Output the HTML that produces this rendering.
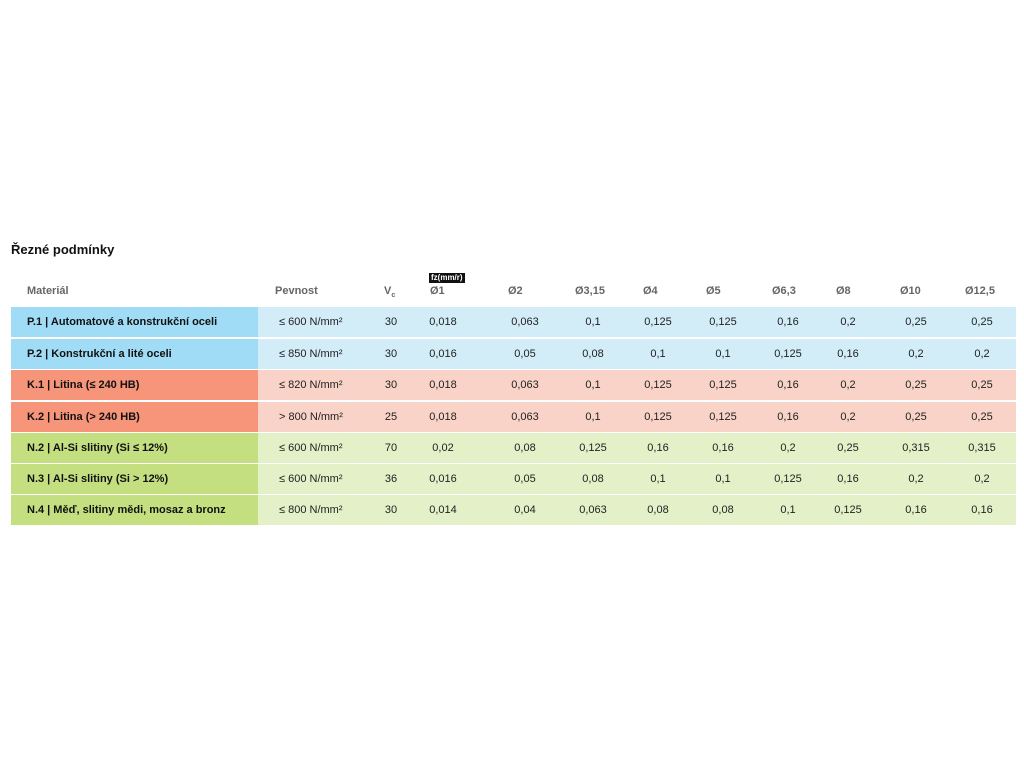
<!DOCTYPE html>
<html><head><meta charset="utf-8"><style>
body{margin:0;width:1024px;height:768px;background:#fff;font-family:"Liberation Sans",sans-serif;position:relative;overflow:hidden}
.t{position:absolute;left:11px;top:242px;font-size:13px;font-weight:bold;color:#111}
.h{position:absolute;top:285px;font-size:11px;font-weight:bold;color:#666}
.row{position:absolute;left:11px;width:1005px;height:30px}
.l{position:absolute;left:0;top:0;width:247px;height:100%}
.r{position:absolute;left:247px;top:0;right:0;height:100%}
.n{position:absolute;left:16px;top:0;line-height:30px;font-size:11px;font-weight:bold;color:#111}
.c{position:absolute;top:0;line-height:30px;font-size:11px;color:#222;transform:translateX(-50%);white-space:nowrap}
.p{position:absolute;left:268px;top:0;line-height:30px;font-size:11px;color:#222}
.fz{position:absolute;left:429px;top:273px;background:#111;color:#fff;font-size:8px;font-weight:bold;padding:0 2px;line-height:10px}
</style></head><body>
<div class="t">Řezné podmínky</div>
<div class="fz">fz(mm/r)</div>
<div class="h" style="left:27px">Materiál</div>
<div class="h" style="left:275px">Pevnost</div>
<div class="h" style="left:384px">V<sub style="font-size:7px">c</sub></div>
<div class="h" style="left:430px">Ø1</div>
<div class="h" style="left:508px">Ø2</div>
<div class="h" style="left:575px">Ø3,15</div>
<div class="h" style="left:643px">Ø4</div>
<div class="h" style="left:706px">Ø5</div>
<div class="h" style="left:772px">Ø6,3</div>
<div class="h" style="left:836px">Ø8</div>
<div class="h" style="left:900px">Ø10</div>
<div class="h" style="left:965px">Ø12,5</div>

<div class="row" style="top:307px"><div class="l" style="background:#a0dcf6"></div><div class="r" style="background:#d3edf8"></div><div class="n">P.1 | Automatové a konstrukční oceli</div><div class="p">≤ 600 N/mm²</div>
<div class="c" style="left:380px">30</div><div class="c" style="left:432px">0,018</div><div class="c" style="left:514px">0,063</div><div class="c" style="left:582px">0,1</div><div class="c" style="left:647px">0,125</div><div class="c" style="left:712px">0,125</div><div class="c" style="left:777px">0,16</div><div class="c" style="left:837px">0,2</div><div class="c" style="left:905px">0,25</div><div class="c" style="left:971px">0,25</div></div>

<div class="row" style="top:339px"><div class="l" style="background:#a0dcf6"></div><div class="r" style="background:#d3edf8"></div><div class="n">P.2 | Konstrukční a lité oceli</div><div class="p">≤ 850 N/mm²</div>
<div class="c" style="left:380px">30</div><div class="c" style="left:432px">0,016</div><div class="c" style="left:514px">0,05</div><div class="c" style="left:582px">0,08</div><div class="c" style="left:647px">0,1</div><div class="c" style="left:712px">0,1</div><div class="c" style="left:777px">0,125</div><div class="c" style="left:837px">0,16</div><div class="c" style="left:905px">0,2</div><div class="c" style="left:971px">0,2</div></div>

<div class="row" style="top:370px"><div class="l" style="background:#f6957a"></div><div class="r" style="background:#fad3c8"></div><div class="n">K.1 | Litina (≤ 240 HB)</div><div class="p">≤ 820 N/mm²</div>
<div class="c" style="left:380px">30</div><div class="c" style="left:432px">0,018</div><div class="c" style="left:514px">0,063</div><div class="c" style="left:582px">0,1</div><div class="c" style="left:647px">0,125</div><div class="c" style="left:712px">0,125</div><div class="c" style="left:777px">0,16</div><div class="c" style="left:837px">0,2</div><div class="c" style="left:905px">0,25</div><div class="c" style="left:971px">0,25</div></div>

<div class="row" style="top:402px"><div class="l" style="background:#f6957a"></div><div class="r" style="background:#fad3c8"></div><div class="n">K.2 | Litina (&gt; 240 HB)</div><div class="p">&gt; 800 N/mm²</div>
<div class="c" style="left:380px">25</div><div class="c" style="left:432px">0,018</div><div class="c" style="left:514px">0,063</div><div class="c" style="left:582px">0,1</div><div class="c" style="left:647px">0,125</div><div class="c" style="left:712px">0,125</div><div class="c" style="left:777px">0,16</div><div class="c" style="left:837px">0,2</div><div class="c" style="left:905px">0,25</div><div class="c" style="left:971px">0,25</div></div>

<div class="row" style="top:433px"><div class="l" style="background:#c3df7f"></div><div class="r" style="background:#e3f0c8"></div><div class="n">N.2 | Al-Si slitiny (Si ≤ 12%)</div><div class="p">≤ 600 N/mm²</div>
<div class="c" style="left:380px">70</div><div class="c" style="left:432px">0,02</div><div class="c" style="left:514px">0,08</div><div class="c" style="left:582px">0,125</div><div class="c" style="left:647px">0,16</div><div class="c" style="left:712px">0,16</div><div class="c" style="left:777px">0,2</div><div class="c" style="left:837px">0,25</div><div class="c" style="left:905px">0,315</div><div class="c" style="left:971px">0,315</div></div>

<div class="row" style="top:464px"><div class="l" style="background:#c3df7f"></div><div class="r" style="background:#e3f0c8"></div><div class="n">N.3 | Al-Si slitiny (Si &gt; 12%)</div><div class="p">≤ 600 N/mm²</div>
<div class="c" style="left:380px">36</div><div class="c" style="left:432px">0,016</div><div class="c" style="left:514px">0,05</div><div class="c" style="left:582px">0,08</div><div class="c" style="left:647px">0,1</div><div class="c" style="left:712px">0,1</div><div class="c" style="left:777px">0,125</div><div class="c" style="left:837px">0,16</div><div class="c" style="left:905px">0,2</div><div class="c" style="left:971px">0,2</div></div>

<div class="row" style="top:495px"><div class="l" style="background:#c3df7f"></div><div class="r" style="background:#e3f0c8"></div><div class="n">N.4 | Měď, slitiny mědi, mosaz a bronz</div><div class="p">≤ 800 N/mm²</div>
<div class="c" style="left:380px">30</div><div class="c" style="left:432px">0,014</div><div class="c" style="left:514px">0,04</div><div class="c" style="left:582px">0,063</div><div class="c" style="left:647px">0,08</div><div class="c" style="left:712px">0,08</div><div class="c" style="left:777px">0,1</div><div class="c" style="left:837px">0,125</div><div class="c" style="left:905px">0,16</div><div class="c" style="left:971px">0,16</div></div>
</body></html>
